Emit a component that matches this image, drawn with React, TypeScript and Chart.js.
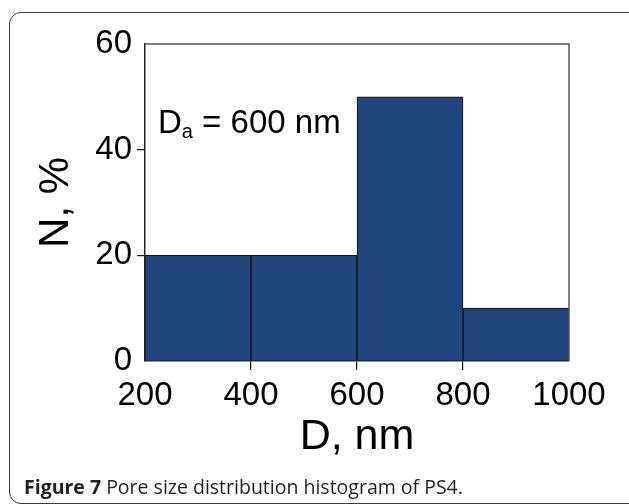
import React, { useEffect, useRef } from "react";
import { Chart, registerables } from "chart.js";

Chart.register(...registerables);

// Histogram data
const binCenters = [300, 500, 700, 900]; // nm, bins 200-400, 400-600, 600-800, 800-1000
const percentages = [20, 20, 50, 10];
const xTicks = [200, 400, 600, 800, 1000];
const yTicks = [0, 20, 40, 60];
const annotationMain = "D";
const annotationSub = "a";
const annotationRest = " = 600 nm";
const xTitle = "D, nm";
const yTitle = "N, %";

const BAR_COLOR = "#21467E";
const FONT = '"Liberation Sans", Arial, sans-serif';

const boxPlugin = {
  id: "boxAndNote",
  afterDatasetsDraw(chart: any) {
    const { ctx, chartArea: a } = chart;
    ctx.save();
    ctx.strokeStyle = "#555";
    ctx.lineWidth = 1.5;
    ctx.beginPath();
    ctx.moveTo(a.left, a.top);
    ctx.lineTo(a.right, a.top);
    ctx.lineTo(a.right, a.bottom);
    ctx.stroke();

    // annotation text
    ctx.fillStyle = "#000";
    ctx.textBaseline = "alphabetic";
    ctx.textAlign = "left";
    let x = a.left + 13;
    const y = a.top + 89;
    ctx.font = `33px ${FONT}`;
    ctx.fillText(annotationMain, x, y);
    x += ctx.measureText(annotationMain).width;
    ctx.font = `20px ${FONT}`;
    ctx.fillText(annotationSub, x, y + 5);
    x += ctx.measureText(annotationSub).width;
    ctx.font = `33px ${FONT}`;
    ctx.fillText(annotationRest, x, y);
    ctx.restore();
  },
};

export default function App() {
  const canvasRef = useRef<HTMLCanvasElement | null>(null);

  useEffect(() => {
    const canvas = canvasRef.current;
    if (!canvas) return;
    const chart = new Chart(canvas, {
      type: "bar",
      data: {
        datasets: [
          {
            data: binCenters.map((x, i) => ({ x, y: percentages[i] })),
            backgroundColor: BAR_COLOR,
            borderColor: "#111",
            borderWidth: 1,
            barPercentage: 1,
            categoryPercentage: 1,
          },
        ],
      },
      options: {
        responsive: false,
        animation: false,
        devicePixelRatio: 1,
        layout: { padding: { left: 20, top: 44, right: 60, bottom: 34 } },
        plugins: {
          legend: { display: false },
          tooltip: { enabled: false },
        },
        scales: {
          x: {
            type: "linear",
            min: 200,
            max: 1000,
            offset: false,
            afterFit(scale: any) {
              scale.height = 504 - 34 - 361;
            },
            afterBuildTicks(scale: any) {
              scale.ticks = xTicks.map((v) => ({ value: v }));
            },
            ticks: {
              font: { family: FONT, size: 33 },
              color: "#000",
              padding: 6,
              maxRotation: 0,
              autoSkip: false,
              callback: (v: any) => String(v),
            },
            grid: {
              offset: false,
              drawOnChartArea: false,
              drawTicks: true,
              tickLength: 9,
              lineWidth: 1.2,
              color: (c: any) =>
                c.tick && (c.tick.value === 200 || c.tick.value === 1000)
                  ? "rgba(0,0,0,0)"
                  : "#111",
            },
            border: { display: true, color: "#222", width: 1.5 },
            title: {
              display: true,
              text: xTitle,
              font: { family: FONT, size: 43 },
              color: "#000",
              padding: { top: 0, bottom: 7 },
            },
          },
          y: {
            type: "linear",
            min: 0,
            max: 60,
            afterFit(scale: any) {
              scale.width = 125;
            },
            afterBuildTicks(scale: any) {
              scale.ticks = yTicks.map((v) => ({ value: v }));
            },
            ticks: {
              font: { family: FONT, size: 33 },
              color: "#000",
              padding: 5,
              callback: (v: any) => String(v),
            },
            grid: {
              drawOnChartArea: false,
              drawTicks: true,
              tickLength: 8,
              lineWidth: 1.2,
              color: (c: any) =>
                c.tick && (c.tick.value === 0 || c.tick.value === 60)
                  ? "rgba(0,0,0,0)"
                  : "#111",
            },
            border: { display: true, color: "#222", width: 1.5 },
            title: {
              display: true,
              text: yTitle,
              font: { family: FONT, size: 42 },
              color: "#000",
              padding: { top: 11, bottom: 0 },
            },
          },
        },
      },
      plugins: [boxPlugin],
    } as any);
    return () => chart.destroy();
  }, []);

  return (
    <div
      style={{
        position: "fixed",
        left: 0,
        top: 0,
        width: 629,
        height: 504,
        overflow: "hidden",
        background: "#fff",
      }}
    >
      <div
        style={{
          position: "absolute",
          left: 9,
          top: 12,
          width: 630,
          height: 490,
          border: "1.5px solid #3a3a3a",
          borderRadius: 12,
        }}
      />
      <canvas
        ref={canvasRef}
        width={629}
        height={504}
        style={{ position: "absolute", left: 0, top: 0, width: 629, height: 504 }}
      />
      <div
        style={{
          position: "absolute",
          left: 24,
          top: 477,
          fontFamily: '"Open Sans", sans-serif',
          fontSize: 19.5,
          lineHeight: 1,
          color: "#231f20",
          whiteSpace: "nowrap",
          letterSpacing: 0,
          fontWeight: 500,
        }}
      >
        <b>Figure 7</b> Pore size distribution histogram of PS4.
      </div>
    </div>
  );
}
